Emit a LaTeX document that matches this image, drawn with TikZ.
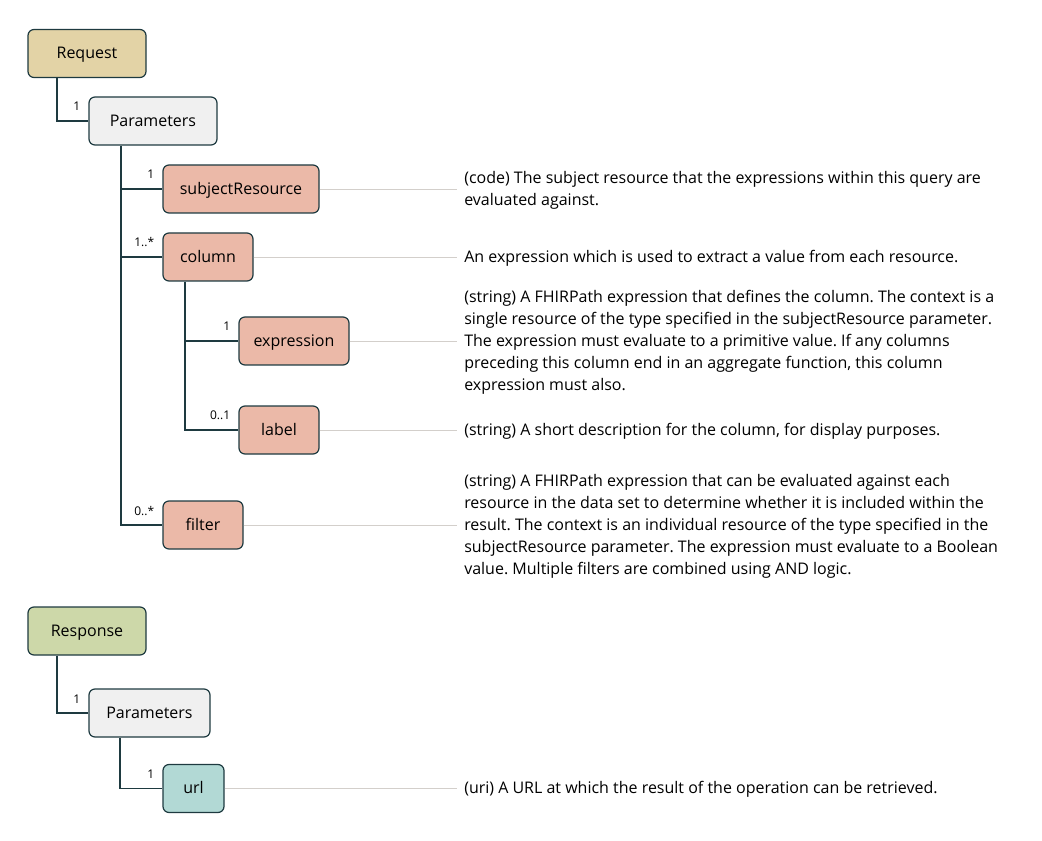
\documentclass[tikz,border=0pt]{standalone}
\usepackage{fontspec}
\setmainfont{Open Sans}
\frenchspacing
\begin{document}
\begin{tikzpicture}[x=0.75pt,y=-0.75pt,
  box/.style={draw=linkc, line width=0.9pt, rounded corners=4.5pt, minimum height=36pt,
    inner sep=0pt, text height=10pt, text depth=2pt, font=\fontsize{12}{14}\selectfont, text=black},
  rootreq/.style={box, fill=reqfill},
  rootresp/.style={box, fill=respfill},
  params/.style={box, fill=parfill},
  elem/.style={box, fill=elemfill},
  urlbox/.style={box, fill=urlfill},
  link/.style={draw=linkc, line width=0.9pt},
  leader/.style={draw=leadc, line width=0.6pt},
  card/.style={font=\fontsize{9}{10}\selectfont, inner sep=0pt, anchor=base east},
  desc/.style={font=\fontsize{12}{16.5}\selectfont, align=left, anchor=west, inner sep=0pt}]
\definecolor{reqfill}{HTML}{E3D3A6}
\definecolor{respfill}{HTML}{CDD8A9}
\definecolor{parfill}{HTML}{F0F0F0}
\definecolor{elemfill}{HTML}{EBB9A8}
\definecolor{urlfill}{HTML}{B2D9D5}
\definecolor{linkc}{HTML}{1E3A40}
\definecolor{leadc}{HTML}{D3CFCB}
\useasboundingbox (0,0) rectangle (1042,841);

% request tree
\node[rootreq, minimum width=88.5pt] (req) at (87,53.5) {Request};
\node[params, minimum width=96pt] (par1) at (153,121) {Parameters};
\node[elem, minimum width=117pt] (subj) at (241,189) {subjectResource};
\node[elem, minimum width=67.5pt] (col) at (208,257) {column};
\node[elem, minimum width=82.5pt] (expr) at (294,341) {expression};
\node[elem, minimum width=60pt] (lab) at (279,430) {label};
\node[elem, minimum width=60pt] (filt) at (203,525) {filter};

% response tree
\node[rootresp, minimum width=88.5pt] (resp) at (87,631) {Response};
\node[params, minimum width=90.75pt] (par2) at (149.5,713) {Parameters};
\node[urlbox, minimum width=45.75pt] (url) at (193.5,788.5) {url};

% trunk positions
\coordinate (tA) at (57,0);
\coordinate (tB) at (121,0);
\coordinate (tC) at (185,0);
\coordinate (tD) at (120,0);

% tree connectors
\draw[link] (req.south -| tA) |- (par1.west);
\draw[link] (par1.south -| tB) |- (filt.west);
\draw[link] (tB |- subj.west) -- (subj.west);
\draw[link] (tB |- col.west) -- (col.west);
\draw[link] (col.south -| tC) |- (lab.west);
\draw[link] (tC |- expr.west) -- (expr.west);
\draw[link] (resp.south -| tA) |- (par2.west);
\draw[link] (par2.south -| tD) |- (url.west);

% cardinalities
\node[card] (c1) at ([xshift=-6pt,yshift=7.5pt]par1.west) {1};
\node[card] (c2) at ([xshift=-6pt,yshift=7.5pt]subj.west) {1};
\node[card] (c3) at ([xshift=-6pt,yshift=7.5pt]col.west) {1..*};
\node[card] (c4) at ([xshift=-6pt,yshift=7.5pt]expr.west) {1};
\node[card] (c5) at ([xshift=-6pt,yshift=7.5pt]lab.west) {0..1};
\node[card] (c6) at ([xshift=-6pt,yshift=7.5pt]filt.west) {0..*};
\node[card] (c7) at ([xshift=-6pt,yshift=7.5pt]par2.west) {1};
\node[card] (c8) at ([xshift=-6pt,yshift=7.5pt]url.west) {1};

% descriptions
\node[desc] (d1) at (464,190.5) {(code) The subject resource that the expressions within this query are\\evaluated against.};
\node[desc] (d2) at (464,258) {An expression which is used to extract a value from each resource.};
\node[desc] (d3) at (464,342.5) {(string) A FHIRPath expression that defines the column. The context is a\\single resource of the type specified in the subjectResource parameter.\\The expression must evaluate to a primitive value. If any columns\\preceding this column end in an aggregate function, this column\\expression must also.};
\node[desc] (d4) at (464,431) {(string) A short description for the column, for display purposes.};
\node[desc] (d5) at (464,526.5) {(string) A FHIRPath expression that can be evaluated against each\\resource in the data set to determine whether it is included within the\\result. The context is an individual resource of the type specified in the\\subjectResource parameter. The expression must evaluate to a Boolean\\value. Multiple filters are combined using AND logic.};
\node[desc] (d6) at (464,789.5) {(uri) A URL at which the result of the operation can be retrieved.};

% leaders to descriptions
\draw[leader] (subj.east) -- (subj.east -| 457,0);
\draw[leader] (col.east) -- (col.east -| 457,0);
\draw[leader] (expr.east) -- (expr.east -| 457,0);
\draw[leader] (lab.east) -- (lab.east -| 457,0);
\draw[leader] (filt.east) -- (filt.east -| 457,0);
\draw[leader] (url.east) -- (url.east -| 457,0);
\end{tikzpicture}
\end{document}
